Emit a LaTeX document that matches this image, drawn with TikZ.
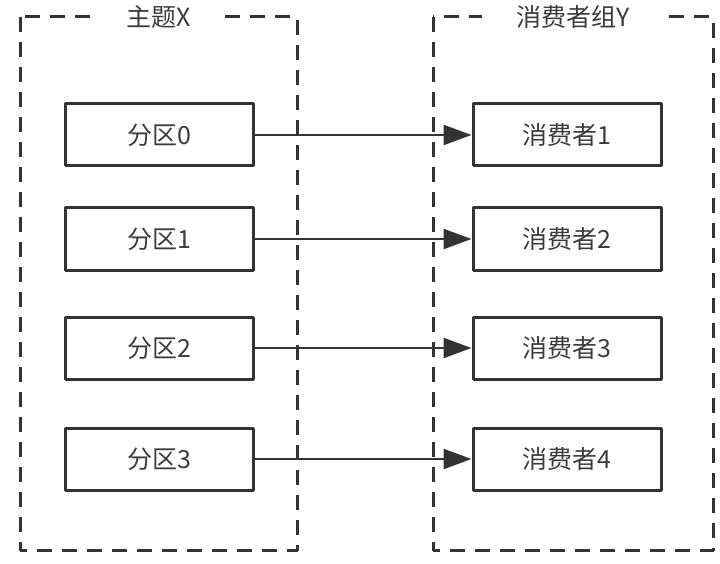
\documentclass[tikz,border=0pt]{standalone}
\usepackage{fontspec}
\setmainfont{Noto Sans CJK SC}
\usetikzlibrary{arrows.meta}
\definecolor{inkgray}{HTML}{333333}
\definecolor{textgray}{HTML}{3C3C3C}

\begin{document}
\begin{tikzpicture}[line width=3pt, line join=round, x=1pt, y=-1pt,
    frame/.style={draw=inkgray, dash pattern=on 15pt off 10pt},
    title/.style={fill=white, inner xsep=34pt, text=textgray, font=\fontsize{25}{27}\selectfont},
    part/.style={draw=inkgray, minimum width=188pt, minimum height=62pt, text=textgray, font=\fontsize{25}{27}\selectfont},
    feed/.style={draw=inkgray, line width=2.4pt, -{Triangle[length=28pt,width=20pt]}}]
  \useasboundingbox (0,0) rectangle (720,564);
  % topic and group outlines (dashed)
  \draw[frame] (20,17) rectangle (297,550);
  \draw[frame] (433,17) rectangle (713,550);
  \node[title] (topic) at (159,17) {主题X};
  \node[title] (group) at (573,17) {消费者组Y};
  % partitions on the left
  \node[part] (p0) at (159,135) {分区0};
  \node[part] (p1) at (159,239) {分区1};
  \node[part] (p2) at (159,348) {分区2};
  \node[part] (p3) at (159,459) {分区3};
  % consumers on the right
  \node[part] (c1) at (567,135) {消费者1};
  \node[part] (c2) at (567,239) {消费者2};
  \node[part] (c3) at (567,348) {消费者3};
  \node[part] (c4) at (567,459) {消费者4};
  % one partition per consumer
  \draw[feed] (p0) -- (c1);
  \draw[feed] (p1) -- (c2);
  \draw[feed] (p2) -- (c3);
  \draw[feed] (p3) -- (c4);
\end{tikzpicture}
\end{document}
